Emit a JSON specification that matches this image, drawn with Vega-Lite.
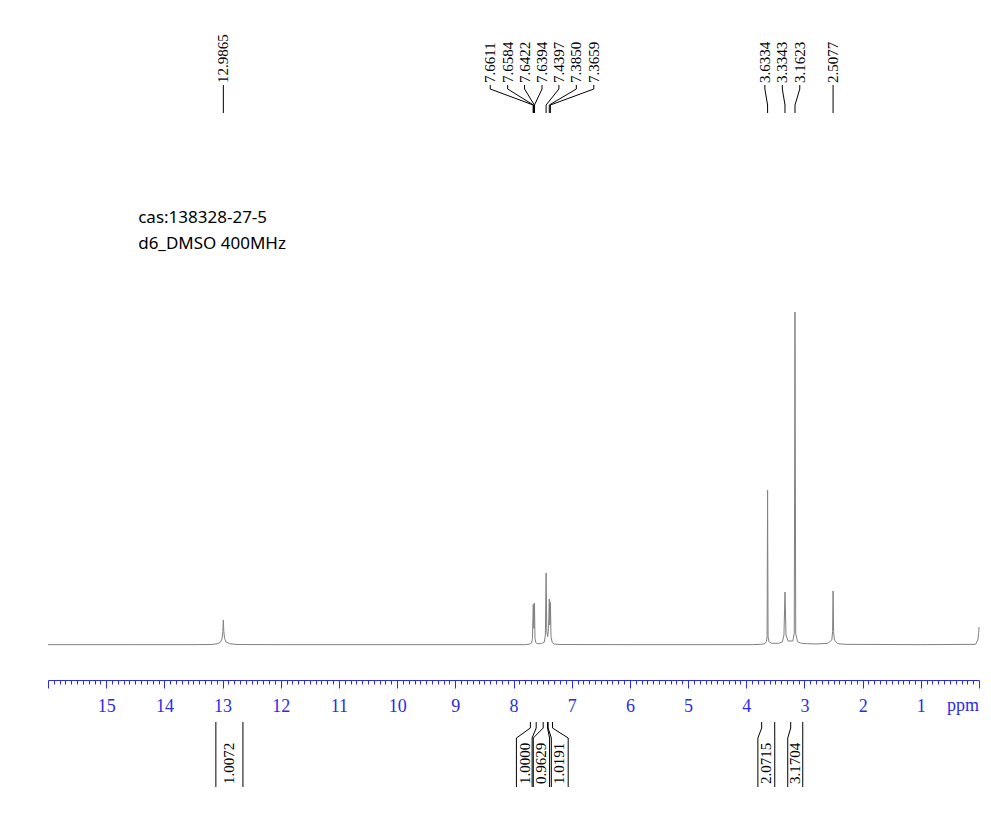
{
  "$schema": "https://vega.github.io/schema/vega-lite/v6.json",
  "width": 931,
  "height": 680,
  "autosize": {"type": "none"},
  "padding": {"left": 48, "top": 0, "right": 12, "bottom": 134},
  "background": "white",
  "config": {"view": {"stroke": null}},
  "datasets": {
    "spectrum": [
      {"ppm": 16.0, "I": 0.1}, {"ppm": 14.5, "I": 0.1}, {"ppm": 13.6, "I": 0.1},
      {"ppm": 13.2, "I": 0.15}, {"ppm": 13.08, "I": 0.4}, {"ppm": 13.03, "I": 1.0},
      {"ppm": 13.008, "I": 2.0}, {"ppm": 12.995, "I": 4.0}, {"ppm": 12.9865, "I": 7.5},
      {"ppm": 12.978, "I": 4.0}, {"ppm": 12.965, "I": 2.0}, {"ppm": 12.94, "I": 0.9},
      {"ppm": 12.88, "I": 0.4}, {"ppm": 12.75, "I": 0.15}, {"ppm": 12.0, "I": 0.1},
      {"ppm": 10.0, "I": 0.1}, {"ppm": 8.5, "I": 0.1}, {"ppm": 7.8, "I": 0.1},
      {"ppm": 7.72, "I": 0.3}, {"ppm": 7.69, "I": 0.6}, {"ppm": 7.674, "I": 2.0},
      {"ppm": 7.6611, "I": 12.2}, {"ppm": 7.6584, "I": 12.0}, {"ppm": 7.651, "I": 5.0},
      {"ppm": 7.6422, "I": 12.6}, {"ppm": 7.6394, "I": 12.2}, {"ppm": 7.631, "I": 2.0},
      {"ppm": 7.615, "I": 0.7}, {"ppm": 7.59, "I": 0.4}, {"ppm": 7.52, "I": 0.4},
      {"ppm": 7.47, "I": 0.9}, {"ppm": 7.452, "I": 3.0}, {"ppm": 7.4397, "I": 21.6},
      {"ppm": 7.428, "I": 4.0}, {"ppm": 7.412, "I": 2.5}, {"ppm": 7.397, "I": 5.0},
      {"ppm": 7.385, "I": 13.8}, {"ppm": 7.375, "I": 6.0}, {"ppm": 7.3659, "I": 12.8},
      {"ppm": 7.355, "I": 2.5}, {"ppm": 7.335, "I": 0.8}, {"ppm": 7.3, "I": 0.3},
      {"ppm": 7.2, "I": 0.15}, {"ppm": 6.0, "I": 0.1}, {"ppm": 4.5, "I": 0.1},
      {"ppm": 3.9, "I": 0.1}, {"ppm": 3.75, "I": 0.2}, {"ppm": 3.68, "I": 0.4},
      {"ppm": 3.655, "I": 1.0}, {"ppm": 3.642, "I": 2.5}, {"ppm": 3.6334, "I": 46.5},
      {"ppm": 3.625, "I": 2.5}, {"ppm": 3.61, "I": 1.0}, {"ppm": 3.56, "I": 0.5},
      {"ppm": 3.45, "I": 0.5}, {"ppm": 3.38, "I": 0.9}, {"ppm": 3.352, "I": 3.0},
      {"ppm": 3.3343, "I": 15.9}, {"ppm": 3.317, "I": 3.0}, {"ppm": 3.28, "I": 1.2},
      {"ppm": 3.2, "I": 1.2}, {"ppm": 3.175, "I": 3.5}, {"ppm": 3.1623, "I": 100},
      {"ppm": 3.15, "I": 3.5}, {"ppm": 3.12, "I": 1.0}, {"ppm": 3.05, "I": 0.5},
      {"ppm": 2.95, "I": 0.4}, {"ppm": 2.8, "I": 0.3}, {"ppm": 2.6, "I": 0.5},
      {"ppm": 2.53, "I": 1.5}, {"ppm": 2.516, "I": 4.0}, {"ppm": 2.5077, "I": 16.2},
      {"ppm": 2.499, "I": 4.0}, {"ppm": 2.485, "I": 1.5}, {"ppm": 2.43, "I": 0.4},
      {"ppm": 2.3, "I": 0.2}, {"ppm": 1.0, "I": 0.1}, {"ppm": 0.06, "I": 0.2},
      {"ppm": 0.02, "I": 1.5}, {"ppm": 0.005, "I": 3.8}, {"ppm": 0.0, "I": 5.4}
    ],
    "peaks": [
      {"label": "12.9865", "ppm": 12.9865, "lx": 12.9865},
      {"label": "7.6611", "ppm": 7.6611, "lx": 8.40},
      {"label": "7.6584", "ppm": 7.6584, "lx": 8.10},
      {"label": "7.6422", "ppm": 7.6422, "lx": 7.81},
      {"label": "7.6394", "ppm": 7.6394, "lx": 7.51},
      {"label": "7.4397", "ppm": 7.4397, "lx": 7.22},
      {"label": "7.3850", "ppm": 7.3850, "lx": 6.92},
      {"label": "7.3659", "ppm": 7.3659, "lx": 6.62},
      {"label": "3.6334", "ppm": 3.6334, "lx": 3.68},
      {"label": "3.3343", "ppm": 3.3343, "lx": 3.38},
      {"label": "3.1623", "ppm": 3.1623, "lx": 3.08},
      {"label": "2.5077", "ppm": 2.5077, "lx": 2.5077}
    ],
    "integrals": [
      {"label": "1.0072", "c": 12.89},
      {"label": "1.0000", "c": 7.81},
      {"label": "0.9629", "c": 7.52},
      {"label": "1.0191", "c": 7.21},
      {"label": "2.0715", "c": 3.657},
      {"label": "3.1704", "c": 3.158}
    ],
    "sides": [
      {"r": 13.115, "b": 13.115}, {"r": 12.65, "b": 12.65},
      {"r": 7.71, "b": 7.95}, {"r": 7.61, "b": 7.68},
      {"r": 7.49, "b": 7.66}, {"r": 7.415, "b": 7.38},
      {"r": 7.405, "b": 7.35}, {"r": 7.33, "b": 7.06},
      {"r": 3.735, "b": 3.80}, {"r": 3.511, "b": 3.51},
      {"r": 3.236, "b": 3.287}, {"r": 3.029, "b": 3.029}
    ],
    "notes": [{"t": "cas:138328-27-5\nd6_DMSO 400MHz", "unit": "ppm"}]
  },
  "resolve": {"scale": {"y": "independent"}, "axis": {"x": "independent", "y": "independent"}},
  "layer": [
    {
      "data": {"name": "spectrum"},
      "mark": {"type": "line", "color": "#808080", "strokeWidth": 1},
      "encoding": {
        "x": {
          "field": "ppm", "type": "quantitative",
          "scale": {"domain": [0, 16], "reverse": true, "nice": false, "zero": false},
          "axis": {
            "title": null,
            "orient": "bottom",
            "grid": false,
            "values": [0,0.1,0.2,0.3,0.4,0.5,0.6,0.7,0.8,0.9,1,1.1,1.2,1.3,1.4,1.5,1.6,1.7,1.8,1.9,2,2.1,2.2,2.3,2.4,2.5,2.6,2.7,2.8,2.9,3,3.1,3.2,3.3,3.4,3.5,3.6,3.7,3.8,3.9,4,4.1,4.2,4.3,4.4,4.5,4.6,4.7,4.8,4.9,5,5.1,5.2,5.3,5.4,5.5,5.6,5.7,5.8,5.9,6,6.1,6.2,6.3,6.4,6.5,6.6,6.7,6.8,6.9,7,7.1,7.2,7.3,7.4,7.5,7.6,7.7,7.8,7.9,8,8.1,8.2,8.3,8.4,8.5,8.6,8.7,8.8,8.9,9,9.1,9.2,9.3,9.4,9.5,9.6,9.7,9.8,9.9,10,10.1,10.2,10.3,10.4,10.5,10.6,10.7,10.8,10.9,11,11.1,11.2,11.3,11.4,11.5,11.6,11.7,11.8,11.9,12,12.1,12.2,12.3,12.4,12.5,12.6,12.7,12.8,12.9,13,13.1,13.2,13.3,13.4,13.5,13.6,13.7,13.8,13.9,14,14.1,14.2,14.3,14.4,14.5,14.6,14.7,14.8,14.9,15,15.1,15.2,15.3,15.4,15.5,15.6,15.7,15.8,15.9,16],
            "domainColor": "#2b2be8",
            "domainWidth": 1,
            "tickColor": "#2b2be8",
            "tickWidth": 1,
            "tickSize": {"condition": {"test": "abs(datum.value - round(datum.value)) < 0.001", "value": 8}, "value": 4},
            "labelExpr": "(abs(datum.value - round(datum.value)) < 0.001 && datum.value > 0.5 && datum.value < 15.5) ? format(datum.value, 'd') : ''",
            "labelColor": "#2b2be8",
            "labelFont": "Liberation Serif",
            "labelFontSize": 18,
            "labelPadding": 9,
            "labelOverlap": false,
            "labelFlush": false,
            "labelBound": false
          }
        },
        "y": {
          "field": "I", "type": "quantitative",
          "scale": {"domain": [-10.51, 193.7], "nice": false, "zero": false},
          "axis": null
        }
      }
    },
    {
      "data": {"name": "peaks"},
      "mark": {"type": "text", "angle": 270, "align": "left", "baseline": "middle", "font": "Liberation Serif", "fontSize": 15, "color": "black"},
      "encoding": {
        "x": {"field": "lx", "type": "quantitative", "scale": {"domain": [0, 16], "reverse": true, "nice": false, "zero": false}, "axis": null},
        "y": {"datum": 597, "type": "quantitative", "scale": {"domain": [0, 680], "nice": false, "zero": false}, "axis": null},
        "text": {"field": "label"}
      }
    },
    {
      "data": {"name": "peaks"},
      "mark": {"type": "rule", "color": "black", "strokeWidth": 1},
      "encoding": {
        "x": {"field": "lx", "type": "quantitative", "scale": {"domain": [0, 16], "reverse": true, "nice": false, "zero": false}, "axis": null},
        "y": {"datum": 595, "type": "quantitative", "scale": {"domain": [0, 680], "nice": false, "zero": false}, "axis": null},
        "y2": {"datum": 591}
      }
    },
    {
      "data": {"name": "peaks"},
      "mark": {"type": "rule", "color": "black", "strokeWidth": 1},
      "encoding": {
        "x": {"field": "lx", "type": "quantitative", "scale": {"domain": [0, 16], "reverse": true, "nice": false, "zero": false}, "axis": null},
        "x2": {"field": "ppm"},
        "y": {"datum": 591, "type": "quantitative", "scale": {"domain": [0, 680], "nice": false, "zero": false}, "axis": null},
        "y2": {"datum": 575}
      }
    },
    {
      "data": {"name": "peaks"},
      "mark": {"type": "rule", "color": "black", "strokeWidth": 1},
      "encoding": {
        "x": {"field": "ppm", "type": "quantitative", "scale": {"domain": [0, 16], "reverse": true, "nice": false, "zero": false}, "axis": null},
        "y": {"datum": 575, "type": "quantitative", "scale": {"domain": [0, 680], "nice": false, "zero": false}, "axis": null},
        "y2": {"datum": 567}
      }
    },
    {
      "data": {"name": "integrals"},
      "mark": {"type": "text", "angle": 270, "align": "left", "baseline": "middle", "font": "Liberation Serif", "fontSize": 15, "color": "black"},
      "encoding": {
        "x": {"field": "c", "type": "quantitative", "scale": {"domain": [0, 16], "reverse": true, "nice": false, "zero": false}, "axis": null},
        "y": {"datum": -104, "type": "quantitative", "scale": {"domain": [0, 680], "nice": false, "zero": false}, "axis": null},
        "text": {"field": "label"}
      }
    },
    {
      "data": {"name": "sides"},
      "mark": {"type": "rule", "color": "black", "strokeWidth": 1},
      "encoding": {
        "x": {"field": "r", "type": "quantitative", "scale": {"domain": [0, 16], "reverse": true, "nice": false, "zero": false}, "axis": null},
        "y": {"datum": -42, "type": "quantitative", "scale": {"domain": [0, 680], "nice": false, "zero": false}, "axis": null},
        "y2": {"datum": -48}
      }
    },
    {
      "data": {"name": "sides"},
      "mark": {"type": "rule", "color": "black", "strokeWidth": 1},
      "encoding": {
        "x": {"field": "r", "type": "quantitative", "scale": {"domain": [0, 16], "reverse": true, "nice": false, "zero": false}, "axis": null},
        "x2": {"field": "b"},
        "y": {"datum": -48, "type": "quantitative", "scale": {"domain": [0, 680], "nice": false, "zero": false}, "axis": null},
        "y2": {"datum": -58}
      }
    },
    {
      "data": {"name": "sides"},
      "mark": {"type": "rule", "color": "black", "strokeWidth": 1},
      "encoding": {
        "x": {"field": "b", "type": "quantitative", "scale": {"domain": [0, 16], "reverse": true, "nice": false, "zero": false}, "axis": null},
        "y": {"datum": -58, "type": "quantitative", "scale": {"domain": [0, 680], "nice": false, "zero": false}, "axis": null},
        "y2": {"datum": -107}
      }
    },
    {
      "data": {"name": "notes"},
      "mark": {"type": "text", "align": "left", "baseline": "alphabetic", "font": "Noto Sans", "fontSize": 17, "lineBreak": "\n", "lineHeight": 26, "color": "black"},
      "encoding": {
        "x": {"datum": 14.45, "type": "quantitative", "scale": {"domain": [0, 16], "reverse": true, "nice": false, "zero": false}, "axis": null},
        "y": {"datum": 457, "type": "quantitative", "scale": {"domain": [0, 680], "nice": false, "zero": false}, "axis": null},
        "text": {"field": "t"}
      }
    },
    {
      "data": {"name": "notes"},
      "mark": {"type": "text", "align": "right", "baseline": "alphabetic", "font": "Liberation Serif", "fontSize": 18, "color": "#2b2be8"},
      "encoding": {
        "x": {"datum": 0, "type": "quantitative", "scale": {"domain": [0, 16], "reverse": true, "nice": false, "zero": false}, "axis": null},
        "y": {"datum": -31, "type": "quantitative", "scale": {"domain": [0, 680], "nice": false, "zero": false}, "axis": null},
        "text": {"field": "unit"}
      }
    }
  ]
}
